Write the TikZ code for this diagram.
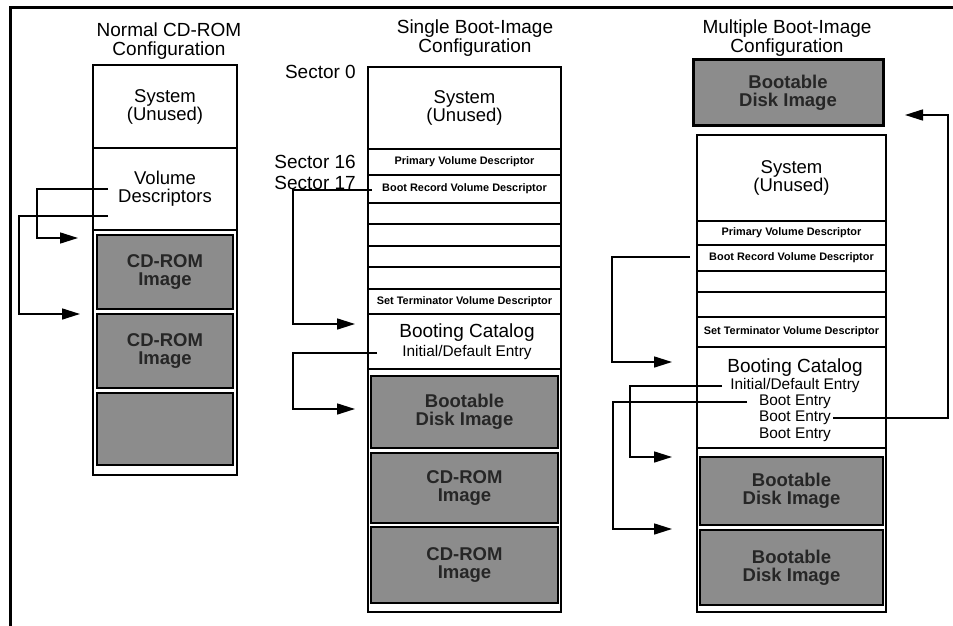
\documentclass[tikz,border=0pt]{standalone}
\usepackage{fontspec}
\setmainfont{Liberation Sans}
\usetikzlibrary{arrows.meta}
\newcommand\blk[7]{\node[#6, minimum width={#4-#2}, minimum height={#5-#3}] (#1) at ({(#2+#4)/2},{(#3+#5)/2}) {#7};}
\begin{document}
\begin{tikzpicture}[x=1pt,y=-1pt,
  cell/.style={draw, line width=2.2pt, inner sep=0pt, align=center, font=\fontsize{18.5}{18}\selectfont},
  smallcell/.style={cell, font=\bfseries\fontsize{10.9}{12}\selectfont},
  outer/.style={draw, line width=2.6pt, inner sep=0pt},
  img/.style={draw, line width=2.2pt, fill=black!45, inner sep=0pt, align=center, text=black!85, font=\bfseries\fontsize{18.5}{18}\selectfont},
  title/.style={align=center, inner sep=0pt, font=\fontsize{19}{18.5}\selectfont},
  big/.style={inner sep=0pt, font=\fontsize{19}{19}\selectfont},
  mid/.style={inner sep=0pt, font=\fontsize{15.4}{15}\selectfont},
  conn/.style={line width=1.6pt},
  arr/.style={conn, -{Triangle[length=18pt,width=11pt]}}]
\useasboundingbox (0,0) rectangle (953,626);
% frame
\coordinate (fa) at (953,8);
\coordinate (fb) at (10,8);
\coordinate (fc) at (10,626);
\draw[line width=3pt] (fa) -- (fb) -- (fc);

% ---------- Column 1 ----------
\node[title] (t1) at (169,41) {Normal CD-ROM\\Configuration};
\blk{a0}{93}{65}{237}{148}{cell}{System\\(Unused)}
\blk{a1}{93}{148}{237}{230}{cell}{Volume\\Descriptors}
\blk{ag1}{97}{235}{233}{309}{img}{CD-ROM\\Image}
\blk{ag2}{97}{314}{233}{388}{img}{CD-ROM\\Image}
\blk{ag3}{97}{393}{233}{465}{img}{}
\blk{aout}{93}{65}{237}{475}{outer}{}

\coordinate (as1) at (108,189);
\coordinate (ak1) at (37,238);
\coordinate (at1) at (78,238);
\coordinate (as2) at (108,216);
\coordinate (ak2) at (19,314);
\coordinate (at2) at (80,314);
\draw[arr] (as1) -| (ak1) -- (at1);
\draw[arr] (as2) -| (ak2) -- (at2);

% ---------- Column 2 ----------
\node[title] (t2) at (475,38) {Single Boot-Image\\Configuration};
\node[big, anchor=east] (s0) at (356,72) {Sector 0};
\node[big, anchor=east] (s16) at (356,162) {Sector 16};
\node[big, anchor=east] (s17) at (356,183) {Sector 17};
\blk{b0}{368}{67}{561}{149}{cell}{System\\(Unused)}
\blk{b1}{368}{149}{561}{175}{smallcell}{Primary Volume Descriptor}
\blk{b2}{368}{175}{561}{203}{smallcell}{Boot Record Volume Descriptor}
\blk{b3}{368}{203}{561}{224}{cell}{}
\blk{b4}{368}{224}{561}{246}{cell}{}
\blk{b5}{368}{246}{561}{267}{cell}{}
\blk{b6}{368}{267}{561}{289}{cell}{}
\blk{b7}{368}{289}{561}{314}{smallcell}{Set Terminator Volume Descriptor}
\blk{b8}{368}{314}{561}{369}{cell}{}
\node[big] (bcat) at (467,333) {Booting Catalog};
\node[mid] (binit) at (467,353) {Initial/Default Entry};
\blk{bg1}{371}{376}{558}{448}{img}{Bootable\\Disk Image}
\blk{bg2}{371}{453}{558}{523}{img}{CD-ROM\\Image}
\blk{bg3}{371}{527}{558}{603}{img}{CD-ROM\\Image}
\blk{bout}{368}{67}{561}{612}{outer}{}

\coordinate (bs1) at (372,190);
\coordinate (bk1) at (293,324);
\coordinate (bt1) at (355,324);
\coordinate (bs2) at (377,353);
\coordinate (bk2) at (293,409);
\coordinate (bt2) at (355,409);
\draw[arr] (bs1) -| (bk1) -- (bt1);
\draw[arr] (bs2) -| (bk2) -- (bt2);

% ---------- Column 3 ----------
\node[title] (t3) at (787,38) {Multiple Boot-Image\\Configuration};
\blk{ctop}{693}{60}{883}{125}{img, line width=3pt}{Bootable\\Disk Image}
\blk{c0}{697}{135}{886}{221}{cell}{System\\(Unused)}
\blk{c1}{697}{221}{886}{245}{smallcell}{Primary Volume Descriptor}
\blk{c2}{697}{245}{886}{271}{smallcell}{Boot Record Volume Descriptor}
\blk{c3}{697}{271}{886}{292}{cell}{}
\blk{c4}{697}{292}{886}{317}{cell}{}
\blk{c5}{697}{317}{886}{347}{smallcell}{Set Terminator Volume Descriptor}
\blk{c6}{697}{347}{886}{448}{cell}{}
\node[big] (ccat) at (795,368) {Booting Catalog};
\node[mid] (cinit) at (795,386) {Initial/Default Entry};
\node[mid] (ce1) at (795,402) {Boot Entry};
\node[mid] (ce2) at (795,418) {Boot Entry};
\node[mid] (ce3) at (795,435) {Boot Entry};
\blk{cg1}{700}{457}{883}{525}{img}{Bootable\\Disk Image}
\blk{cg2}{700}{530}{883}{605}{img}{Bootable\\Disk Image}
\blk{cout}{697}{135}{886}{612}{outer}{}

\coordinate (cs1) at (690,257);
\coordinate (ck1) at (612,362);
\coordinate (ct1) at (672,362);
\coordinate (cs2) at (722,386);
\coordinate (ck2) at (630,457);
\coordinate (ct2) at (672,457);
\coordinate (cs3) at (747,402);
\coordinate (ck3) at (613,529);
\coordinate (ct3) at (672,529);
\coordinate (cs4) at (833,418);
\coordinate (ck4) at (948,115);
\coordinate (ct4) at (905,115);
\draw[arr] (cs1) -| (ck1) -- (ct1);
\draw[arr] (cs2) -| (ck2) -- (ct2);
\draw[arr] (cs3) -| (ck3) -- (ct3);
\draw[arr] (cs4) -| (ck4) -- (ct4);
\end{tikzpicture}
\end{document}
